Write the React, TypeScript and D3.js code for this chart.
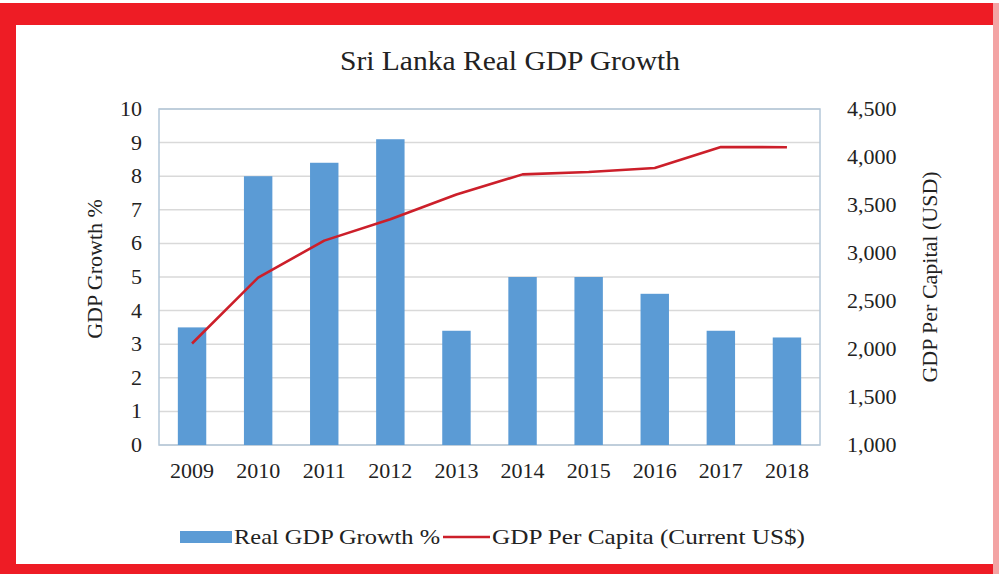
import React from "react";
import * as d3 from "d3";

const years = ["2009", "2010", "2011", "2012", "2013", "2014", "2015", "2016", "2017", "2018"];
const growth = [3.5, 8.0, 8.4, 9.1, 3.4, 5.0, 5.0, 4.5, 3.4, 3.2];
const perCapita = [2057, 2744, 3129, 3351, 3610, 3819, 3843, 3886, 4104, 4102];
const leftTicks = [0, 1, 2, 3, 4, 5, 6, 7, 8, 9, 10];
const rightTicks = [1000, 1500, 2000, 2500, 3000, 3500, 4000, 4500];

const W = 999;
const H = 574;
const plot = { left: 159, right: 820, top: 109, bottom: 445 };
const FONT = "'Liberation Serif', 'DejaVu Serif', serif";
const FS = 22;

export default function App() {
  const x = d3.scaleBand().domain(years).range([plot.left, plot.right]).paddingInner(0.57).paddingOuter(0.285);
  const yL = d3.scaleLinear().domain([0, 10]).range([plot.bottom, plot.top]);
  const yR = d3.scaleLinear().domain([1000, 4500]).range([plot.bottom, plot.top]);
  const fmt = d3.format(",");
  const line = d3
    .line<number>()
    .x((_, i) => (x(years[i]) as number) + x.bandwidth() / 2)
    .y((d) => yR(d));

  return (
    <svg width={W} height={H} style={{ position: "absolute", left: 0, top: 0, background: "#fff" }} fontFamily={FONT}>
      <rect x={0} y={0} width={W} height={H} fill="#fff" />
      {/* red frame */}
      <rect x={0} y={3} width={W} height={22} fill="#ee1c25" />
      <rect x={0} y={3} width={16} height={H - 3} fill="#ee1c25" />
      <rect x={0} y={564} width={W} height={10} fill="#ee1c25" />
      <rect x={993} y={3} width={6} height={H - 3} fill="#f3a4a4" />

      <text x={510} y={70} textAnchor="middle" fontSize={27} fill="#222" textLength={340} lengthAdjust="spacingAndGlyphs">
        Sri Lanka Real GDP Growth
      </text>

      {/* gridlines */}
      {leftTicks.map((t) => (
        <line key={t} x1={plot.left} x2={plot.right} y1={yL(t)} y2={yL(t)} stroke="#d9d9d9" strokeWidth={1.5} />
      ))}
      <rect
        x={plot.left}
        y={plot.top}
        width={plot.right - plot.left}
        height={plot.bottom - plot.top}
        fill="none"
        stroke="#b4c7d9"
        strokeWidth={1.5}
      />

      {/* bars */}
      {growth.map((v, i) => (
        <rect
          key={years[i]}
          x={x(years[i])}
          y={yL(v)}
          width={x.bandwidth()}
          height={yL(0) - yL(v)}
          fill="#5b9bd5"
        />
      ))}

      {/* line */}
      <path d={line(perCapita) || ""} fill="none" stroke="#cc1f2a" strokeWidth={2.6} strokeLinejoin="round" />

      {/* left axis */}
      {leftTicks.map((t) => (
        <text key={t} x={142} y={yL(t) + 7} textAnchor="end" fontSize={FS} fill="#222">
          {t}
        </text>
      ))}
      {/* right axis */}
      {rightTicks.map((t) => (
        <text key={t} x={847} y={yR(t) + 7} textAnchor="start" fontSize={FS} fill="#222">
          {fmt(t)}
        </text>
      ))}
      {/* x axis */}
      {years.map((yv) => (
        <text key={yv} x={(x(yv) as number) + x.bandwidth() / 2} y={478} textAnchor="middle" fontSize={FS} fill="#222">
          {yv}
        </text>
      ))}

      <text transform={`translate(102,269) rotate(-90)`} textAnchor="middle" fontSize={FS} fill="#222">
        GDP Growth %
      </text>
      <text transform={`translate(937,277) rotate(-90)`} textAnchor="middle" fontSize={FS} fill="#222">
        GDP Per Capital (USD)
      </text>

      {/* legend */}
      <rect x={180} y={531} width={52} height={12} fill="#5b9bd5" />
      <text x={234} y={544} fontSize={FS} fill="#222" textLength={206} lengthAdjust="spacingAndGlyphs">
        Real GDP Growth %
      </text>
      <line x1={443} x2={490} y1={537} y2={537} stroke="#cc1f2a" strokeWidth={2.6} />
      <text x={492} y={544} fontSize={FS} fill="#222" textLength={313} lengthAdjust="spacingAndGlyphs">
        GDP Per Capita (Current US$)
      </text>
    </svg>
  );
}
